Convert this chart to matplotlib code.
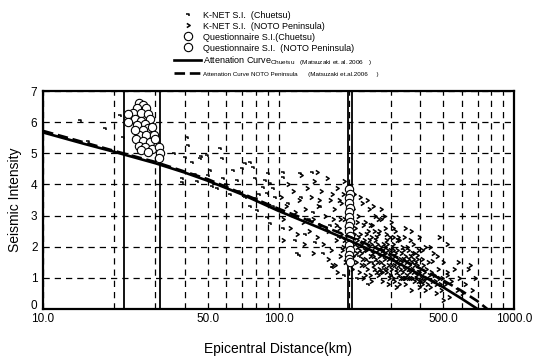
import numpy as np
import matplotlib
matplotlib.use("Agg")
import matplotlib.pyplot as plt
from matplotlib.path import Path

plt.rcParams['font.family'] = ['Liberation Sans', 'DejaVu Sans']
plt.rcParams['mathtext.fontset'] = 'custom'
plt.rcParams['mathtext.rm'] = 'Liberation Sans'

# ---- data ----
# K-NET seismic intensity, Chuetsu (distance km, intensity)
knet_chuetsu = np.array([
    (14.4, 6.07), (15.5, 5.40), (18.3, 5.80), (21.2, 6.23), (21.9, 5.52),
    (36, 5.00), (38.9, 4.20), (39, 4.07), (40.1, 4.88), (40.9, 5.52),
    (41.4, 5.27), (43, 4.72), (44, 4.35), (45, 4.10), (46.4, 4.85),
    (47, 4.90), (49.8, 4.94), (50, 4.30), (51.2, 4.46), (52, 3.95),
    (55, 3.90), (56.5, 5.17), (57.7, 4.85), (58, 4.20), (60, 4.00),
    (62, 3.70), (64.3, 4.46), (66.8, 4.14), (68, 3.80), (70, 4.53),
    (72, 4.69), (72, 3.60), (75.8, 4.72), (75.8, 3.30), (78, 4.56),
    (79.6, 4.20), (80, 3.55), (81, 3.18), (83, 3.70), (85, 3.40),
    (86, 3.92), (87.6, 4.14), (89, 3.73), (89, 2.97), (90, 4.36),
    (92, 4.05), (92, 2.76), (95, 3.89), (95, 3.30), (97, 3.60),
    (104, 4.40), (104, 4.24), (105, 2.60), (110, 3.40), (115, 3.00),
    (118, 2.20), (120, 1.80), (122, 1.75), (123, 4.37), (125, 3.60),
    (130, 2.40), (135, 2.90), (139, 4.40), (140, 3.10), (143, 2.15),
    (150, 3.30), (155, 1.80), (165, 2.70), (169, 1.35), (175, 2.50),
    (180, 2.30), (190, 1.10), (200, 2.60), (215, 1.00), (220, 1.70),
    (240, 0.80), (250, 1.50), (280, 1.30), (300, 1.10),
])

# K-NET seismic intensity, NOTO Peninsula (distance km, intensity)
knet_noto = np.array([
    (102, 3.6), (104, 2.2), (105, 2.9), (108, 3.3), (110, 4.0), (112, 2.6),
    (115, 3.8), (118, 3.1), (120, 2.4), (122, 3.5), (125, 4.3), (127, 2.8),
    (128, 2.1), (130, 3.2), (132, 3.9), (135, 2.5),
    (138, 3.6), (140, 2.9), (140, 1.8), (142, 4.1), (145, 2.3), (145, 4.4),
    (147, 3.3), (148, 3.5), (150, 2.7), (152, 3.8), (155, 2.1), (157, 3.0),
    (158, 2.6), (160, 4.2), (162, 2.5), (163, 1.6), (165, 3.5), (167, 1.9),
    (168, 3.7), (170, 2.9), (168, 1.4),
    (172, 3.2), (174, 1.4), (175, 2.2), (176, 2.7), (177, 3.9), (178, 1.2),
    (180, 2.6), (180, 3.5), (182, 1.7), (183, 2.9), (185, 3.4), (186, 1.9),
    (187, 2.0), (188, 3.7), (190, 2.9), (190, 4.1), (192, 1.5), (193, 2.3),
    (195, 3.6), (196, 2.0), (197, 2.4), (198, 1.6), (200, 1.9), (200, 3.4),
    (202, 2.8), (203, 2.5), (205, 1.3), (206, 2.3), (207, 3.2), (208, 1.7),
    (210, 2.1), (210, 3.7),
    (212, 2.6), (214, 1.5), (215, 2.8), (216, 2.0), (218, 3.0), (219, 1.9),
    (220, 1.2), (221, 3.6), (222, 2.4), (224, 1.8), (225, 1.4), (226, 3.4),
    (228, 1.0), (229, 2.7), (230, 2.2), (232, 1.6), (233, 1.1), (234, 2.8),
    (235, 2.4), (236, 1.9), (237, 3.5), (238, 1.3), (239, 2.0), (240, 2.5),
    (242, 3.2), (243, 2.2), (244, 1.7), (245, 1.1), (246, 2.1), (248, 0.9),
    (249, 1.8), (250, 2.7), (251, 3.3), (252, 1.4), (254, 2.0), (255, 2.5),
    (256, 3.0), (258, 1.6), (259, 1.2), (260, 2.3),
    (262, 1.9), (264, 2.9), (265, 1.1), (267, 1.3), (268, 2.5), (270, 1.5),
    (272, 3.2), (273, 2.9), (276, 0.9), (277, 1.8), (278, 2.1), (280, 3.0),
    (281, 1.6), (282, 2.0), (284, 2.6), (287, 1.2), (287, 2.4), (290, 1.9),
    (292, 1.6), (293, 0.8), (296, 2.3), (297, 1.1), (299, 1.4), (300, 2.8),
    (302, 2.0), (305, 1.0), (307, 2.1), (307, 2.6), (308, 1.7), (310, 0.9),
    (311, 2.5), (314, 1.2), (315, 1.5), (317, 0.7), (318, 2.2), (320, 1.9),
    (323, 1.4), (323, 2.3), (325, 0.8), (326, 2.2), (328, 1.6), (329, 1.0),
    (332, 1.8), (336, 1.2), (338, 1.6), (340, 2.3), (342, 1.0), (344, 0.8),
    (346, 2.6), (348, 1.5), (352, 2.0), (354, 1.3), (356, 1.0), (358, 1.4),
    (360, 1.7), (362, 2.2), (364, 0.6), (368, 1.3), (370, 1.0), (372, 2.1),
    (374, 1.6), (376, 0.9), (378, 1.8), (380, 1.5), (385, 1.1), (388, 1.4),
    (388, 1.75), (390, 1.9), (392, 1.2), (395, 0.7), (398, 0.9), (400, 1.3),
    (405, 1.6), (408, 1.9), (410, 0.9), (412, 1.4), (415, 1.2), (418, 0.6),
    (420, 2.0),
    (425, 1.0), (430, 1.5), (438, 0.7), (440, 2.0), (445, 1.2), (450, 1.55),
    (452, 1.8), (460, 0.9), (468, 0.5), (470, 1.7), (475, 1.3), (480, 2.3),
    (482, 1.0), (490, 0.6), (500, 1.5), (500, 0.3), (510, 0.8), (520, 1.1),
    (520, 2.1), (520, 1.2), (530, 0.4), (540, 0.9), (555, 1.3), (570, 0.6),
    (580, 1.5), (585, 1.0), (600, 0.5), (620, 0.8), (640, 1.3), (650, 1.4),
    (660, 0.6), (680, 1.0),
    # dense core around the curve
    (185, 2.4), (189, 2.2), (194, 2.6), (204, 2.0), (209, 2.4), (213, 1.8),
    (217, 2.3), (223, 2.1), (227, 1.6), (231, 1.9), (241, 1.5), (247, 2.3),
    (253, 1.7), (257, 2.2), (261, 1.5), (263, 2.1), (266, 1.7), (269, 2.0),
    (271, 1.2), (274, 1.9), (279, 1.4), (283, 1.8), (285, 1.3), (289, 2.1),
    (291, 1.4), (294, 1.7), (298, 1.9), (301, 1.3), (304, 1.6), (306, 1.9),
    (309, 1.4), (312, 1.8), (316, 1.3), (319, 1.6), (322, 1.1), (327, 1.3),
    (331, 1.5), (334, 1.0), (337, 1.9), (341, 1.3), (345, 1.7), (349, 1.1),
    (353, 1.6), (357, 1.2), (361, 1.0), (366, 1.5), (369, 1.8), (373, 1.2),
    (377, 1.4), (382, 1.0), (386, 1.6), (391, 0.9), (396, 1.2), (402, 1.0),
    (407, 0.8), (414, 1.0), (422, 1.3), (428, 0.8), (435, 1.1), (448, 0.9),
    (458, 1.1), (465, 0.8), (486, 0.8), (495, 1.0), (230, 1.4), (255, 1.3),
    (275, 1.2), (295, 1.0), (205, 1.7), (215, 2.2), (245, 2.7), (265, 2.4),
    (285, 2.2), (305, 2.3), (335, 2.0), (355, 1.9), (365, 2.5), (395, 2.3),
    (345, 1.0),
])

# questionnaire seismic intensity (distance km, intensity)
quest_chuetsu = np.array([
    (25.5, 6.60), (26.5, 6.55), (27.5, 6.45), (25.0, 6.45), (24.0, 6.30),
    (23.0, 6.25), (26.0, 6.30), (27.8, 6.25), (28.5, 6.10), (24.5, 6.10),
    (26.0, 6.05), (27.0, 5.95), (25.0, 5.90), (28.0, 5.80), (29.0, 5.85),
    (26.5, 5.75), (25.5, 5.60), (27.5, 5.60), (29.5, 5.60), (24.8, 5.45),
    (26.5, 5.40), (28.5, 5.35), (30.0, 5.45), (25.5, 5.25), (27.0, 5.20),
    (29.0, 5.15), (31.0, 5.20), (26.0, 5.10), (28.0, 5.05), (31.5, 5.00),
    (31.2, 4.85), (23.0, 6.00), (24.5, 5.75),
])
quest_noto = np.array([
    (200, 3.85), (201, 3.70), (199, 3.55), (200, 3.40), (201, 3.25),
    (199, 3.10), (200, 2.95), (201, 2.80), (199, 2.65), (200, 2.50),
    (201, 2.35), (199, 2.20), (200, 2.05), (201, 1.90), (199, 1.75),
    (200, 1.60), (201, 1.50),
])

# attenuation curves (Matsuzaki et al. 2006)
curve_chuetsu_km = [10, 15, 20, 30, 40, 50, 70, 100, 150, 200, 300, 400, 500, 600, 700]
curve_chuetsu_si = [5.67, 5.30, 5.05, 4.68, 4.38, 4.12, 3.68, 3.15, 2.60, 2.20, 1.60, 1.10, 0.70, 0.33, 0.0]
curve_noto_km = [10, 20, 30, 50, 100, 150, 200, 300, 400, 500, 600, 700, 770]
curve_noto_si = [5.72, 5.08, 4.72, 4.17, 3.22, 2.70, 2.32, 1.76, 1.30, 0.92, 0.58, 0.25, 0.0]

# solid vertical lines (distance km)
boundary_km = [22, 31.5, 197, 205]

x_ticks = [10, 50, 100, 500, 1000]
x_ticklabels = ['10.0', '50.0', '100.0', '500.0', '1000.0']
x_minor = [20, 30, 40, 60, 70, 80, 90, 200, 300, 400, 600, 700, 800, 900]

# ---- markers ----
m_chuetsu = Path([(-1.0, 0.1), (0.4, 0.1), (0.4, -1.0)],
                 [Path.MOVETO, Path.LINETO, Path.LINETO])
m_noto = Path([(-0.8, 1.0), (0.8, 0.0), (-0.8, -1.0)],
              [Path.MOVETO, Path.LINETO, Path.LINETO])

fig = plt.figure(figsize=(5.36, 3.58), dpi=100)
ax = fig.add_axes([43 / 536, 49 / 358, 471 / 536, 218 / 358])

ax.plot(knet_chuetsu[:, 0], knet_chuetsu[:, 1], ls='none', marker=m_chuetsu,
        ms=3, mfc='none', mec='k', mew=1.1, label='K-NET S.I.  (Chuetsu)')
ax.plot(knet_noto[:, 0], knet_noto[:, 1], ls='none', marker=m_noto,
        ms=3, mfc='none', mec='k', mew=1.1, label='K-NET S.I.  (NOTO Peninsula)')
ax.plot(quest_chuetsu[:, 0], quest_chuetsu[:, 1], ls='none', marker='o',
        ms=6, mfc='white', mec='k', mew=0.8, label='Questionnaire S.I.(Chuetsu)')
ax.plot(quest_noto[:, 0], quest_noto[:, 1], ls='none', marker='o',
        ms=6, mfc='white', mec='k', mew=0.8, label='Questionnaire S.I.  (NOTO Peninsula)')
ax.plot(curve_chuetsu_km, curve_chuetsu_si, color='k', lw=1.9,
        label=r'Attenation Curve$_{\rm Chuetsu\ \ \ (Matsuzaki\ et.al.2006\ \ \ )}$')
ax.plot(curve_noto_km, curve_noto_si, color='k', lw=1.9, dashes=(4, 1.8),
        label='Attenation Curve NOTO Peninsula      (Matsuzaki et.al.2006     )')

for b in boundary_km:
    ax.axvline(b, color='k', lw=1.3, zorder=1.5)

ax.set_xscale('log')
ax.set_xlim(10, 1000)
ax.set_ylim(0, 7)
ax.set_xticks(x_ticks)
ax.set_xticklabels(x_ticklabels)
ax.set_xticks(x_minor, minor=True)
ax.set_xticklabels([], minor=True)
ax.set_yticks(range(0, 8))
ax.tick_params(which='both', length=0, labelsize=8.5)
ax.tick_params(axis='y', pad=4)
ax.tick_params(axis='x', pad=3)
ax.get_yticklabels()[0].set_va('baseline')

ax.grid(True, which='both', axis='x', color='k', lw=0.9, ls=(0, (5, 4)))
ax.grid(True, which='major', axis='y', color='k', lw=0.9, ls=(0, (5, 4)))
ax.set_axisbelow(True)
for s in ax.spines.values():
    s.set_linewidth(1.6)

ax.set_xlabel('Epicentral Distance(km)', fontsize=10, labelpad=12)
ax.set_ylabel('Seismic Intensity', fontsize=10, labelpad=6)

leg = ax.legend(loc='lower left', bbox_to_anchor=(174 / 536, 1 - 77 / 358),
                bbox_transform=fig.transFigure, frameon=False, fontsize=6.5,
                handlelength=3.0, handletextpad=0.2, labelspacing=0.22,
                borderpad=0, borderaxespad=0)
leg.get_texts()[5].set_fontsize(4.5)

fig.savefig('out.png', dpi=100)
